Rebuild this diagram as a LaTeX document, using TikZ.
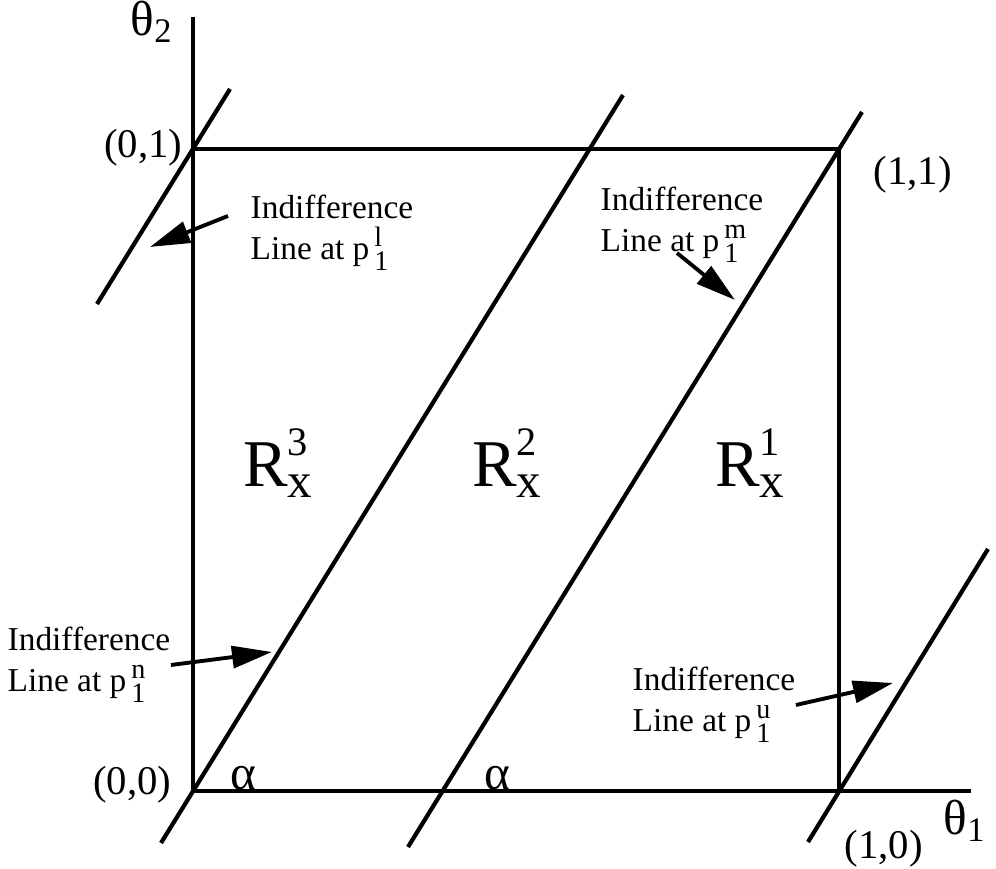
\documentclass[tikz,border=0pt]{standalone}
\usepackage{fontspec}
\setmainfont{Liberation Serif}[Ligatures={TeX,NoCommon}]
\usepackage{tikz}
\usetikzlibrary{arrows.meta}
\DeclareMathSizes{9.5}{9.5}{8}{6}

% region label: R with stacked super- and subscript
\newcommand{\regionlbl}[1]{R\rlap{\raisebox{9pt}{\fontsize{11.5}{12}\selectfont #1}}%
  \raisebox{-3pt}{\fontsize{14}{14}\selectfont x}}

\begin{document}
\begin{tikzpicture}[
  >=Latex,
  every node/.style={font=\fontsize{11.6}{13}\selectfont, inner sep=0pt},
  axline/.style={line width=0.9pt},
  iline/.style={line width=1.2pt},
  ilabel/.style={font=\fontsize{9.5}{11.6}\selectfont, align=left, anchor=west},
  rlabel/.style={font=\fontsize{19}{22}\selectfont},
  glabel/.style={font=\fontsize{14}{16}\selectfont},
  ptr/.style={-{Triangle[length=4mm,width=2.2mm]}, line width=1.1pt},
]
  \useasboundingbox (-1.93,-0.78) rectangle (8.03,7.91);

  % Corners of the unit square and axis ends
  \coordinate (o) at (0,0);
  \coordinate (a) at (6.46,0);
  \coordinate (b) at (6.46,6.42);
  \coordinate (c) at (0,6.42);
  \coordinate (xend) at (7.78,0);
  \coordinate (yend) at (0,7.74);

  % Axes and square
  \draw[axline] (o) -- (xend);
  \draw[axline] (o) -- (yend);
  \draw[axline] (c) -- (b) -- (a);

  % Indifference lines (all with the same slope)
  \coordinate (l1) at (-0.96,4.87);  \coordinate (l2) at (0.37,7.02);
  \coordinate (n1) at (-0.32,-0.52); \coordinate (n2) at (4.30,6.96);
  \coordinate (m1) at (2.15,-0.56);  \coordinate (m2) at (6.69,6.79);
  \coordinate (u1) at (6.15,-0.51);  \coordinate (u2) at (7.95,2.42);
  \draw[iline] (l1) -- (l2);
  \draw[iline] (n1) -- (n2);
  \draw[iline] (m1) -- (m2);
  \draw[iline] (u1) -- (u2);

  % Corner and axis labels
  \node[anchor=east] (c-lbl) at (-0.10,6.43) {(0,1)};
  \node[anchor=west] (b-lbl) at (6.80,6.16) {(1,1)};
  \node[anchor=east] (o-lbl) at (-0.21,0.06) {(0,0)};
  \node[anchor=west] (a-lbl) at (6.51,-0.58) {(1,0)};
  \node[glabel] (th1) at (7.72,-0.30) {θ$_{\mathrm{1}}$};
  \node[glabel] (th2) at (-0.41,7.69) {θ$_{\mathrm{2}}$};
  \node[glabel] (al1) at (0.50,0.13) {α};
  \node[glabel] (al2) at (3.04,0.13) {α};

  % Regions
  \node[rlabel] (r3) at (0.85,3.28) {\regionlbl{3}};
  \node[rlabel] (r2) at (3.14,3.28) {\regionlbl{2}};
  \node[rlabel] (r1) at (5.57,3.28) {\regionlbl{1}};

  % Indifference line labels
  \node[ilabel] (tl) at (0.57,5.58) {Indifference\\Line at p$^{\,\mathrm{l}}_{\,\mathrm{1}}$};
  \node[ilabel] (tm) at (4.07,5.66) {Indifference\\Line at p$^{\,\mathrm{m}}_{\,\mathrm{1}}$};
  \node[ilabel] (tn) at (-1.86,1.26) {Indifference\\Line at p$^{\,\mathrm{n}}_{\,\mathrm{1}}$};
  \node[ilabel] (tu) at (4.39,0.86) {Indifference\\Line at p$^{\,\mathrm{u}}_{\,\mathrm{1}}$};

  % Arrow tips next to the lines
  \coordinate (pl) at (-0.43,5.44);
  \coordinate (pm) at (5.42,4.91);
  \coordinate (pn) at (0.79,1.39);
  \coordinate (pu) at (7.00,1.08);

  \draw[ptr] ([shift={(-0.22,0.17)}]tl.west) -- (pl);
  \draw[ptr] ([shift={(0.77,-0.28)}]tm.west) -- (pm);
  \draw[ptr] (tn.east) -- (pn);
  \draw[ptr] (tu.east) -- (pu);
\end{tikzpicture}
\end{document}
